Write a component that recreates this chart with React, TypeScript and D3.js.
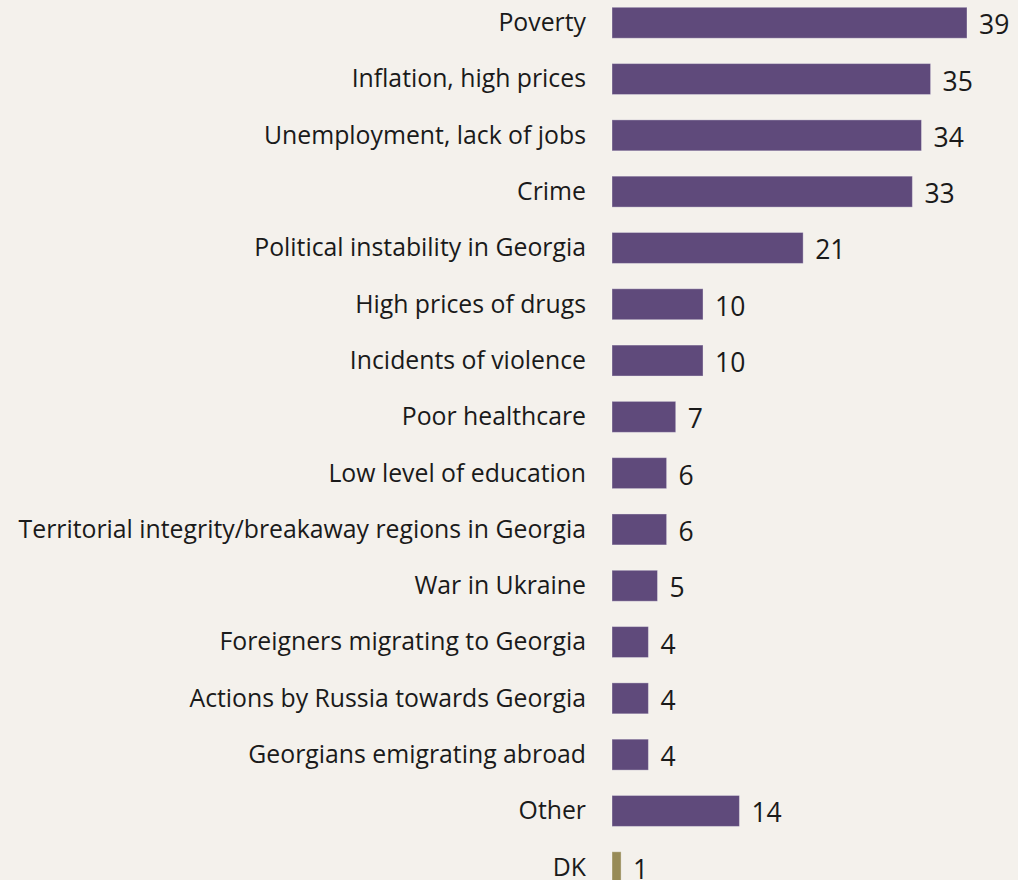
import React, { useEffect, useRef } from 'react';
import * as d3 from 'd3';

const categories = [
  'Poverty',
  'Inflation, high prices',
  'Unemployment, lack of jobs',
  'Crime',
  'Political instability in Georgia',
  'High prices of drugs',
  'Incidents of violence',
  'Poor healthcare',
  'Low level of education',
  'Territorial integrity/breakaway regions in Georgia',
  'War in Ukraine',
  'Foreigners migrating to Georgia',
  'Actions by Russia towards Georgia',
  'Georgians emigrating abroad',
  'Other',
  'DK',
];
const values = [39, 35, 34, 33, 21, 10, 10, 7, 6, 6, 5, 4, 4, 4, 14, 1];

const W = 1018;
const H = 880;

export default function App() {
  const svgRef = useRef<SVGSVGElement>(null);

  useEffect(() => {
    const svg = d3.select(svgRef.current);
    svg.selectAll('*').remove();

    const data = categories.map((c, i) => ({ cat: c, value: values[i] }));

    const x = d3.scaleLinear().domain([0, 39]).range([612, 967]);
    const y = d3
      .scaleBand<string>()
      .domain(categories)
      .range([-5.4, -5.4 + 16 * 56.3])
      .paddingInner(0.45)
      .paddingOuter(0.225);

    svg.append('rect').attr('width', W).attr('height', H).attr('fill', '#f4f1ec');

    const g = svg.append('g');

    g.selectAll('rect.bar')
      .data(data)
      .enter()
      .append('rect')
      .attr('class', 'bar')
      .attr('x', x(0))
      .attr('y', d => y(d.cat)!)
      .attr('width', d => x(d.value) - x(0))
      .attr('height', y.bandwidth())
      .attr('fill', d => (d.cat === 'DK' ? '#978b57' : '#5f4a7b'))
      .attr('stroke', 'rgba(255,255,255,0.35)')
      .attr('stroke-width', 1);

    // category labels
    g.selectAll('text.cat')
      .data(data)
      .enter()
      .append('text')
      .attr('class', 'cat')
      .attr('x', 586)
      .attr('y', d => y(d.cat)! + y.bandwidth() / 2)
      .attr('dy', '0.34em')
      .attr('text-anchor', 'end')
      .style('font-family', '"Open Sans", sans-serif')
      .style('font-size', '24.8px')
      .style('fill', '#1a1a1a')
      .text(d => d.cat);

    // value labels
    g.selectAll('text.val')
      .data(data)
      .enter()
      .append('text')
      .attr('class', 'val')
      .attr('x', d => x(d.value) + 12)
      .attr('y', d => y(d.cat)! + y.bandwidth() / 2 + 2)
      .attr('dy', '0.36em')
      .style('font-family', '"Open Sans", sans-serif')
      .style('font-size', '26.5px')
      .style('fill', '#1a1a1a')
      .text(d => d.value);
  }, []);

  return (
    <div style={{ position: 'fixed', left: 0, top: 0, width: W, height: H, overflow: 'hidden' }}>
      <svg ref={svgRef} width={W} height={H} style={{ display: 'block' }} />
    </div>
  );
}
